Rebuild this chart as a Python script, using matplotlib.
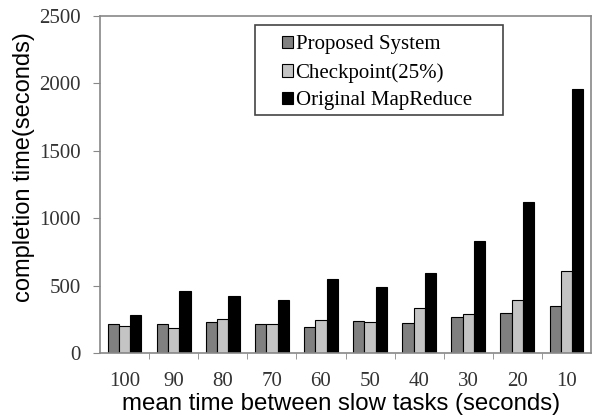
import numpy as np
import matplotlib
matplotlib.use('Agg')
import matplotlib.pyplot as plt
from matplotlib.patches import Rectangle

categories = ['100', '90', '80', '70', '60', '50', '40', '30', '20', '10']
proposed = [217, 217, 230, 213, 195, 238, 220, 264, 299, 351]
checkpoint = [198, 185, 255, 215, 242, 231, 331, 289, 392, 608]
original = [282, 458, 425, 395, 549, 492, 597, 833, 1118, 1960]

labels = ['Proposed System', 'Checkpoint(25%)', 'Original MapReduce']
colors = ['#808080', '#c4c4c4', '#000000']

fig = plt.figure(figsize=(5.97, 4.17), dpi=100)
ax = fig.add_axes([0.1675, 0.1535, 0.8225, 0.808])

x = np.arange(len(categories))
w = 0.23
for i, (vals, lab, c) in enumerate(zip([proposed, checkpoint, original], labels, colors)):
    ax.bar(x + (i - 1) * w, vals, w, color=c, edgecolor='black', linewidth=0.8, label=lab)

ax.set_xlim(-0.5, len(categories) - 0.5)
ax.set_ylim(0, 2500)
ax.set_yticks(range(0, 2501, 500))
ax.set_xticks(x)
ax.set_xticklabels(categories)
ax.set_xticks(np.arange(0.5, len(categories) - 0.5, 1), minor=True)
ax.tick_params(axis='x', which='major', length=0, pad=14)
ax.tick_params(axis='x', which='minor', length=4, color='#888888', direction='out')
ax.tick_params(axis='y', length=5, color='#888888', direction='out', pad=9)

for lbl in ax.get_xticklabels() + ax.get_yticklabels():
    lbl.set_family('Liberation Serif')
    lbl.set_fontsize(15)
    lbl.set_color('#333333')

for s in ax.spines.values():
    s.set_color('#888888')
    s.set_linewidth(1.2)

ax.set_xlabel('mean time between slow tasks (seconds)', family='Liberation Sans', fontsize=17.3)
ax.xaxis.set_label_coords(0.49, -0.118)
ax.set_ylabel('completion time(seconds)', family='Liberation Sans', fontsize=17)
ax.yaxis.set_label_coords(-0.132, 0.552)

# legend frame is wider than its entries in the original
ax.add_patch(Rectangle((0.3157, 0.706), 0.505, 0.267, transform=ax.transAxes, fill=False,
                       edgecolor='#444444', linewidth=1.2, zorder=4))
leg = ax.legend(loc='upper left', bbox_to_anchor=(0.3707, 0.943), prop={'family': 'Liberation Serif', 'size': 15},
                frameon=False, handlelength=0.55, handleheight=0.55,
                handletextpad=0.1, labelspacing=0.42, borderpad=0, borderaxespad=0)

fig.savefig('out.png', dpi=100)
